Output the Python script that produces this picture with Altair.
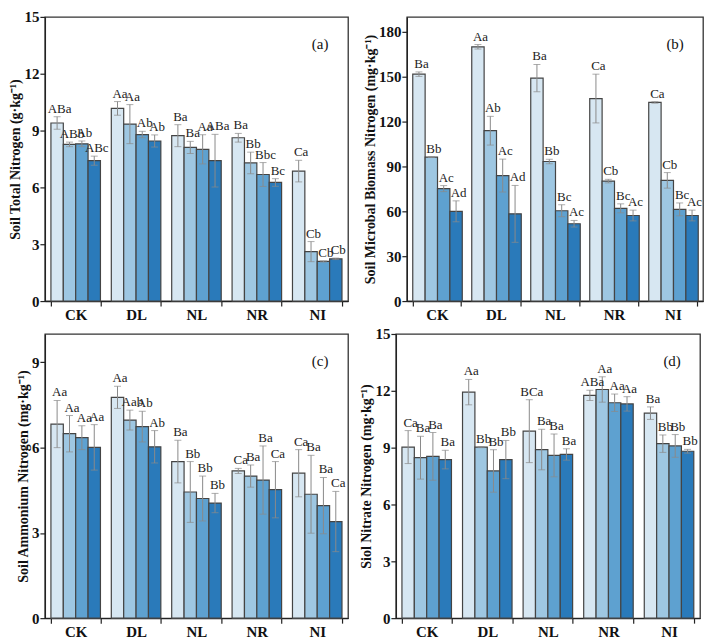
import altair as alt
import pandas as pd

groups = ["CK", "DL", "NL", "NR", "NI"]
layers = ["L1", "L2", "L3", "L4"]
colors = ["#d7e7f2", "#9ec7e2", "#5ea1d0", "#2a7aba"]

# (a) Soil total nitrogen
tn_mean = [[9.40, 8.27, 8.30, 7.41], [10.17, 9.34, 8.79, 8.45], [8.73, 8.11, 8.01, 7.41],
           [8.62, 7.29, 6.68, 6.26], [6.86, 2.61, 2.09, 2.23]]
tn_err = [[0.33, 0.12, 0.15, 0.24], [0.36, 1.03, 0.17, 0.32], [0.58, 0.32, 0.77, 1.39],
          [0.23, 0.57, 0.63, 0.20], [0.57, 0.53, 0.03, 0.04]]
tn_lab = [["ABa", "ABb", "Ab", "ABc"], ["Aa", "Aa", "Ab", "Ab"], ["Ba", "Ba", "Aa", "ABa"],
          ["Ba", "Bb", "Bbc", "Bc"], ["Ca", "Cb", "Cb", "Cb"]]

# (b) Soil microbial biomass nitrogen
mbn_mean = [[151.7, 96.3, 75.2, 60.0], [170.0, 113.9, 83.9, 58.3], [149.1, 93.3, 60.4, 51.7],
            [135.4, 80.2, 62.0, 57.2], [132.8, 80.7, 61.3, 57.2]]
mbn_err = [[1.5, 0.3, 2.0, 7.0], [1.5, 9.6, 11.0, 19.0], [9.1, 1.5, 4.0, 2.2],
           [16.3, 1.2, 3.0, 3.6], [0.5, 5.2, 4.3, 3.6]]
mbn_lab = [["Ba", "Bb", "Ac", "Ad"], ["Aa", "Ab", "Ac", "Ad"], ["Ba", "Bb", "Bc", "Ac"],
           ["Ca", "Cb", "Bc", "Ac"], ["Ca", "Cb", "Bc", "Ac"]]

# (c) Soil ammonium nitrogen
amm_mean = [[6.83, 6.49, 6.35, 6.01], [7.77, 6.97, 6.74, 6.03], [5.51, 4.44, 4.21, 4.05],
            [5.18, 5.00, 4.86, 4.52], [5.10, 4.36, 3.96, 3.40]]
amm_err = [[0.83, 0.64, 0.42, 0.80], [0.39, 0.35, 0.54, 0.57], [0.75, 1.07, 0.79, 0.34],
           [0.09, 0.39, 1.20, 0.99], [0.83, 1.37, 0.99, 1.06]]
amm_lab = [["Aa", "Aa", "Aa", "Aa"], ["Aa", "Aab", "Ab", "Ab"], ["Ba", "Bb", "Bb", "Bb"],
           ["Ca", "Ba", "Ba", "Ca"], ["Ca", "Ba", "Ba", "Ca"]]

# (d) Soil nitrate nitrogen
nit_mean = [[9.03, 8.47, 8.54, 8.37], [11.93, 9.03, 7.77, 8.37], [9.87, 8.90, 8.59, 8.64],
            [11.76, 12.07, 11.37, 11.31], [10.82, 9.21, 9.09, 8.81]]
nit_err = [[0.87, 1.13, 1.26, 0.49], [0.67, 0.03, 1.12, 1.01], [1.66, 1.07, 1.13, 0.30],
           [0.27, 0.67, 0.46, 0.38], [0.33, 0.46, 0.60, 0.10]]
nit_lab = [["Ca", "Ba", "Ba", "Ba"], ["Aa", "Bb", "Bb", "Bb"], ["BCa", "Ba", "Ba", "Ba"],
           ["ABa", "Aa", "Aa", "Aa"], ["Ba", "Bb", "Bb", "Bb"]]

SERIF = "Liberation Serif"


def make_panel(mean, err, lab, ymax, yvals, title, tag, width, height):
    rows = []
    for gi, g in enumerate(groups):
        for li, l in enumerate(layers):
            m = mean[gi][li]
            e = err[gi][li]
            rows.append({"group": g, "layer": l, "mean": m, "lo": m - e, "hi": m + e,
                         "letter": lab[gi][li]})
    df = pd.DataFrame(rows)
    base = alt.Chart(df)
    x = alt.X("group:N", sort=groups,
              scale=alt.Scale(paddingInner=0.18, paddingOuter=0.1),
              axis=alt.Axis(title=None, labelAngle=0, labelFont=SERIF, labelFontWeight="bold",
                            labelFontSize=15, tickBand="extent", tickSize=5, labelPadding=1))
    xo = alt.XOffset("layer:N", sort=layers, scale=alt.Scale(paddingInner=0, paddingOuter=0))
    yscale = alt.Scale(domain=[0, ymax], nice=False)
    yaxis = alt.Axis(values=yvals, title=title, titleFont=SERIF, titleFontWeight="bold",
                     titleFontSize=14, labelFont=SERIF, labelFontWeight="bold", labelFontSize=15,
                     tickSize=5, grid=False, titlePadding=1, labelPadding=1)
    bars = base.mark_bar(stroke="#444444", strokeWidth=1.2).encode(
        x=x, xOffset=xo,
        y=alt.Y("mean:Q", scale=yscale, axis=yaxis),
        color=alt.Color("layer:N", scale=alt.Scale(domain=layers, range=colors), legend=None),
    )
    rule = base.mark_rule(color="#8a8a8a", strokeWidth=1).encode(
        x=x, xOffset=xo, y=alt.Y("lo:Q", scale=yscale), y2="hi:Q")
    cap_hi = base.mark_tick(color="#8a8a8a", thickness=1, size=7).encode(
        x=x, xOffset=xo, y=alt.Y("hi:Q", scale=yscale))
    cap_lo = base.mark_tick(color="#8a8a8a", thickness=1, size=7).encode(
        x=x, xOffset=xo, y=alt.Y("lo:Q", scale=yscale))
    text = base.mark_text(baseline="bottom", dy=-1, dx=2.5, font=SERIF, fontSize=13,
                          color="#222").encode(
        x=x, xOffset=xo, y=alt.Y("hi:Q", scale=yscale), text="letter:N")
    tagdf = pd.DataFrame({"t": [tag]})
    tagm = alt.Chart(tagdf).mark_text(font=SERIF, fontSize=15, color="#111").encode(
        x=alt.value(width - 28), y=alt.value(27), text="t:N")
    return alt.layer(bars, rule, cap_hi, cap_lo, text, tagm).properties(width=width, height=height)


H = 285
pa = make_panel(tn_mean, tn_err, tn_lab, 15, [0, 3, 6, 9, 12, 15],
                "Soil Total Nitrogen (g·kg⁻¹)", "(a)", 304, H)
pb = make_panel(mbn_mean, mbn_err, mbn_lab, 190, [0, 30, 60, 90, 120, 150, 180],
                "Soil Microbal Biomass Nitrogen (mg·kg⁻¹)", "(b)", 297, H)
pc = make_panel(amm_mean, amm_err, amm_lab, 10, [0, 3, 6, 9],
                "Soil Ammonium Nitrogen (mg·kg⁻¹)", "(c)", 304, H)
pd_ = make_panel(nit_mean, nit_err, nit_lab, 15, [0, 3, 6, 9, 12, 15],
                 "Siol Nitrate Nitrogen (mg·kg⁻¹)", "(d)", 305, H)

chart = alt.vconcat(
    alt.hconcat(pa, pb, spacing=13),
    alt.hconcat(pc, pd_, spacing=10),
    spacing=3,
    padding=0,
).configure_view(stroke="#333", strokeWidth=1.3).configure_axis(
    domainColor="#222", domainWidth=1.3, tickColor="#222", tickWidth=1.2,
    labelColor="#111", titleColor="#111"
)

chart.save("out.html", embed_options={"renderer": "svg", "actions": False})
